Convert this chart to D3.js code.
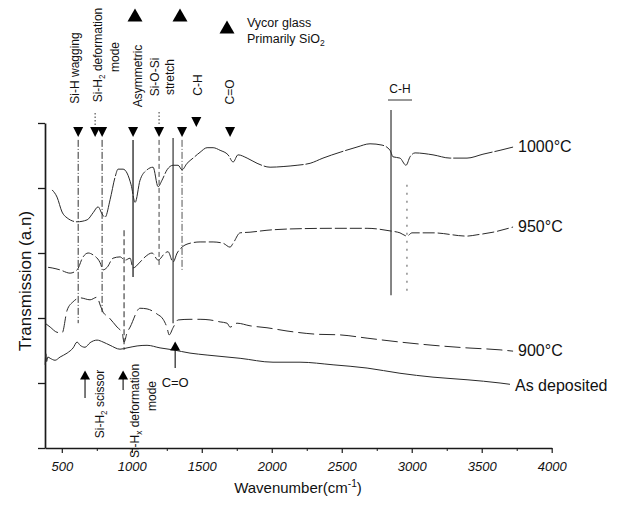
<!DOCTYPE html>
<html>
<head>
<meta charset="utf-8">
<script src="https://cdn.jsdelivr.net/npm/d3@7"></script>
<style>
  body { margin: 0; background: #fff; }
  text { font-family: "Liberation Sans", Arial, sans-serif; fill: #111; }
</style>
</head>
<body>
<svg id="chart" width="634" height="506"></svg>
<script>
// FTIR transmission spectra, [wavenumber (cm^-1), transmission (a.u., stacked)]
const spec1000 = [[431,3.97],[466,3.86],[502,3.63],[538,3.54],[609,3.48],[681,3.51],[724,3.62],[759,3.71],[788,3.60],[809,3.55],[845,3.82],[881,4.17],[902,4.29],[938,4.29],[966,4.23],[995,4.05],[1024,3.78],[1059,4.12],[1109,4.28],[1152,4.32],[1188,4.02],[1216,4.12],[1252,4.28],[1295,4.35],[1331,4.35],[1359,4.28],[1395,4.38],[1438,4.46],[1488,4.55],[1538,4.62],[1581,4.62],[1631,4.58],[1688,4.51],[1724,4.40],[1759,4.51],[1824,4.46],[1895,4.38],[1988,4.32],[2081,4.33],[2181,4.35],[2274,4.38],[2366,4.46],[2488,4.55],[2609,4.63],[2702,4.68],[2788,4.66],[2845,4.58],[2866,4.48],[2916,4.46],[2959,4.35],[2988,4.48],[3024,4.54],[3152,4.51],[3274,4.46],[3395,4.46],[3509,4.52],[3631,4.58],[3724,4.63]];
const spec950 = [[402,2.78],[431,2.77],[488,2.74],[559,2.69],[609,2.74],[652,2.94],[688,3.00],[724,2.97],[774,2.85],[795,2.74],[824,2.78],[866,2.92],[916,2.94],[952,2.89],[988,2.92],[1009,2.77],[1059,2.86],[1095,2.94],[1145,3.00],[1188,2.89],[1238,3.00],[1259,3.02],[1295,2.86],[1324,3.00],[1359,3.09],[1416,3.15],[1488,3.17],[1581,3.17],[1652,3.15],[1702,3.09],[1724,3.15],[1774,3.31],[1845,3.32],[1966,3.35],[2131,3.37],[2438,3.38],[2681,3.38],[2845,3.34],[2916,3.31],[2966,3.26],[3002,3.31],[3152,3.31],[3395,3.26],[3466,3.28],[3581,3.32],[3724,3.40]];
const spec900 = [[381,1.92],[417,1.86],[466,1.78],[502,1.77],[538,2.12],[581,2.25],[631,2.31],[702,2.28],[752,2.32],[774,2.20],[795,2.09],[831,2.02],[895,1.86],[931,1.77],[945,1.63],[966,1.77],[988,1.86],[1059,2.15],[1109,2.14],[1181,2.06],[1224,1.98],[1252,1.85],[1267,1.74],[1295,1.85],[1331,1.97],[1416,1.98],[1488,1.98],[1559,1.97],[1631,1.94],[1681,1.92],[1702,1.86],[1752,1.92],[1845,1.88],[1966,1.85],[2109,1.80],[2324,1.75],[2488,1.74],[2681,1.69],[2916,1.63],[3152,1.58],[3395,1.54],[3631,1.51],[3724,1.49]];
const specAsDep = [[381,1.28],[386,1.45],[392,1.33],[400,1.40],[417,1.38],[452,1.35],[488,1.40],[538,1.46],[581,1.54],[609,1.63],[631,1.58],[666,1.55],[702,1.62],[752,1.66],[795,1.63],[845,1.58],[916,1.52],[966,1.54],[1038,1.57],[1109,1.58],[1202,1.54],[1295,1.51],[1416,1.46],[1538,1.43],[1774,1.38],[2009,1.32],[2202,1.32],[2438,1.28],[2681,1.23],[2916,1.15],[3152,1.09],[3395,1.05],[3631,1.00],[3702,0.98]];

const seriesNames = ["1000°C", "950°C", "900°C", "As deposited"];
const xTicks = [500, 1000, 1500, 2000, 2500, 3000, 3500, 4000];
const xMinorTicks = [750, 1250, 1750, 2250, 2750, 3250, 3750];
const yTicks = [0, 1, 2, 3, 4, 5];

// band positions (cm^-1)
const peaksDown = [617, 738, 788, 1009, 1195, 1359, 1702];
const peaksDownRaised = [1461];
const peaksUp = [666, 938, 1310];
// guide lines: [wavenumber, top, bottom] in transmission units
const guides = [[617,4.74,1.92],[788,4.74,2.09],[1009,4.74,2.63],[1195,4.74,2.78],[1295,4.77,1.92],[1359,4.74,2.74],[945,3.35,1.51],[2852,5.2,2.35],[2966,4.05,2.4]];

// ---- layout ----
const svg = d3.select("#chart");
const x = d3.scaleLinear().domain([380, 4000]).range([45, 551.7]);
const y = d3.scaleLinear().domain([0, 5]).range([448, 123]);
const ink = "#1a1a1a";

// axes
svg.append("g").attr("transform", "translate(45,0)")
  .call(d3.axisLeft(y).tickValues(yTicks).tickSize(7).tickSizeOuter(0).tickFormat(""))
  .call(g => g.select(".domain").attr("stroke", ink).attr("stroke-width", 1.7))
  .call(g => g.selectAll(".tick line").attr("stroke", ink).attr("stroke-width", 1.3));

svg.append("g").attr("transform", "translate(0,448)")
  .call(d3.axisBottom(x).tickValues(xTicks).tickSize(5).tickSizeOuter(0).tickPadding(9).tickFormat(d3.format("d")))
  .call(g => g.select(".domain").attr("stroke", ink).attr("stroke-width", 1.5))
  .call(g => g.selectAll(".tick line").attr("stroke", ink).attr("stroke-width", 1.2))
  .call(g => g.selectAll("text").attr("font-size", 13).attr("font-style", "italic"));

svg.append("g").attr("transform", "translate(0,448)")
  .call(d3.axisBottom(x).tickValues(xMinorTicks).tickSize(3).tickFormat(""))
  .call(g => g.select(".domain").remove())
  .call(g => g.selectAll(".tick line").attr("stroke", ink).attr("stroke-width", 1));

// helper for text with sub/superscripts
function rich(parent, parts, size) {
  const t = parent.append("text").attr("font-size", size);
  let shift = 0;
  parts.forEach(p => {
    const [s, kind] = Array.isArray(p) ? p : [p, null];
    const target = kind === "sub" ? size * 0.25 : kind === "sup" ? -size * 0.4 : 0;
    t.append("tspan").attr("dy", target - shift)
      .attr("font-size", kind ? size * 0.68 : size).text(s);
    shift = target;
  });
  return t;
}
function rotLabel(cx, cy, parts, size) {
  const g = svg.append("g").attr("transform", `translate(${cx},${cy}) rotate(-90)`);
  rich(g, parts, size).attr("text-anchor", "middle").attr("y", size * 0.35);
}
function tri(cx, cy, w, h, dir) {
  const t = dir === "down"
    ? `M${cx - w/2},${cy - h/2}L${cx + w/2},${cy - h/2}L${cx},${cy + h/2}Z`
    : `M${cx - w/2},${cy + h/2}L${cx + w/2},${cy + h/2}L${cx},${cy - h/2}Z`;
  svg.append("path").attr("d", t).attr("fill", "#000");
}

// guide lines
const guideDash = ["7,2,1,2", "7,2,1,2", null, "5,3", null, "7,2,1,2", "6,3", null, "2,6"];
const guideWidth = [1, 1, 1.3, 1, 1.2, 1, 1.6, 1.2, 1];
const guideColor = ["#333", "#333", "#222", "#444", "#333", "#555", "#777", "#333", "#555"];
svg.append("g").selectAll("line").data(guides).join("line")
  .attr("x1", d => x(d[0])).attr("x2", d => x(d[0]))
  .attr("y1", d => y(d[1])).attr("y2", d => y(d[2]))
  .attr("stroke", (d, i) => guideColor[i])
  .attr("stroke-width", (d, i) => guideWidth[i])
  .attr("stroke-dasharray", (d, i) => guideDash[i]);

// spectra
const line = d3.line().x(d => x(d[0])).y(d => y(d[1])).curve(d3.curveMonotoneX);
const specs = [spec1000, spec950, spec900, specAsDep];
const dashes = ["40,2", "12,3", "16,5", null];
svg.append("g").selectAll("path").data(specs).join("path")
  .attr("d", line).attr("fill", "none").attr("stroke", "#2a2a2a")
  .attr("stroke-width", 1).attr("stroke-dasharray", (d, i) => dashes[i]);

// series labels at line ends
specs.forEach((s, i) => {
  const last = s[s.length - 1];
  const lbl = svg.append("text").attr("x", x(last[0]) + 5).attr("y", y(last[1]) + 5)
    .attr("font-size", 16).text(seriesNames[i]);
  if (i === 3) lbl.attr("y", y(last[1]) + 7);
});

// peak markers
peaksDown.forEach(v => tri(x(v), 132, 10, 10, "down"));
peaksDownRaised.forEach(v => tri(x(v), 122, 10, 10, "down"));
peaksUp.forEach((v, i) => {
  const cy = i === 2 ? 346 : 375;
  const stem = i === 0 ? 398 : i === 1 ? 390 : 368;
  svg.append("line").attr("x1", x(v)).attr("x2", x(v)).attr("y1", cy).attr("y2", stem)
    .attr("stroke", "#222").attr("stroke-width", 1.2);
  tri(x(v), cy, 10, 9, "up");
});

// leader dots from labels
[[738, 113, 125], [1195, 112, 125]].forEach(d => {
  svg.append("line").attr("x1", x(d[0])).attr("x2", x(d[0])).attr("y1", d[1]).attr("y2", d[2])
    .attr("stroke", "#333").attr("stroke-dasharray", "1.5,2");
});

// band labels (top)
rotLabel(x(595), 68, ["Si-H wagging"], 12);
rotLabel(x(759), 55, ["Si-H", ["2", "sub"], " deformation"], 12);
rotLabel(x(881), 57, ["mode"], 12);
rotLabel(x(1045), 76, ["Asymmetric"], 12);
rotLabel(x(1166), 77, ["Si-O-Si"], 12);
rotLabel(x(1274), 77, ["stretch"], 12);
rotLabel(x(1474), 85, ["C-H"], 12);
rotLabel(x(1702), 92, ["C=O"], 12);

// band labels (bottom)
rotLabel(x(666) + 15, 404, ["Si-H", ["2", "sub"], " scissor"], 12);
rotLabel(x(938) + 12, 411, ["Si-H", ["x", "sub"], " deformation"], 12);
rotLabel(x(938) + 29, 396, ["mode"], 12);
svg.append("text").attr("x", x(1310)).attr("y", 387).attr("text-anchor", "middle")
  .attr("font-size", 13).text("C=O");

// C-H band at high wavenumber
svg.append("text").attr("x", x(2852) + 9).attr("y", 93).attr("text-anchor", "middle")
  .attr("font-size", 12).text("C-H");
svg.append("line").attr("x1", x(2852) - 3).attr("x2", x(2852) + 21).attr("y1", 100).attr("y2", 100)
  .attr("stroke", "#333").attr("stroke-width", 1);

// Vycor glass key
tri(135, 15, 15, 13, "up");
tri(180, 15, 15, 13, "up");
tri(227, 27, 15, 13, "up");
svg.append("text").attr("x", 247).attr("y", 27).attr("font-size", 12.5).text("Vycor glass");
rich(svg, ["Primarily SiO", ["2", "sub"]], 12.5).attr("x", 247).attr("y", 43);

// axis titles
rich(svg, ["Wavenumber(cm", ["-1", "sup"], ")"], 15)
  .attr("x", 298).attr("y", 493).attr("text-anchor", "middle");
svg.append("text").attr("transform", "translate(25,281) rotate(-90)")
  .attr("text-anchor", "middle").attr("y", 6).attr("font-size", 17).text("Transmission (a.n)");
</script>
</body>
</html>
